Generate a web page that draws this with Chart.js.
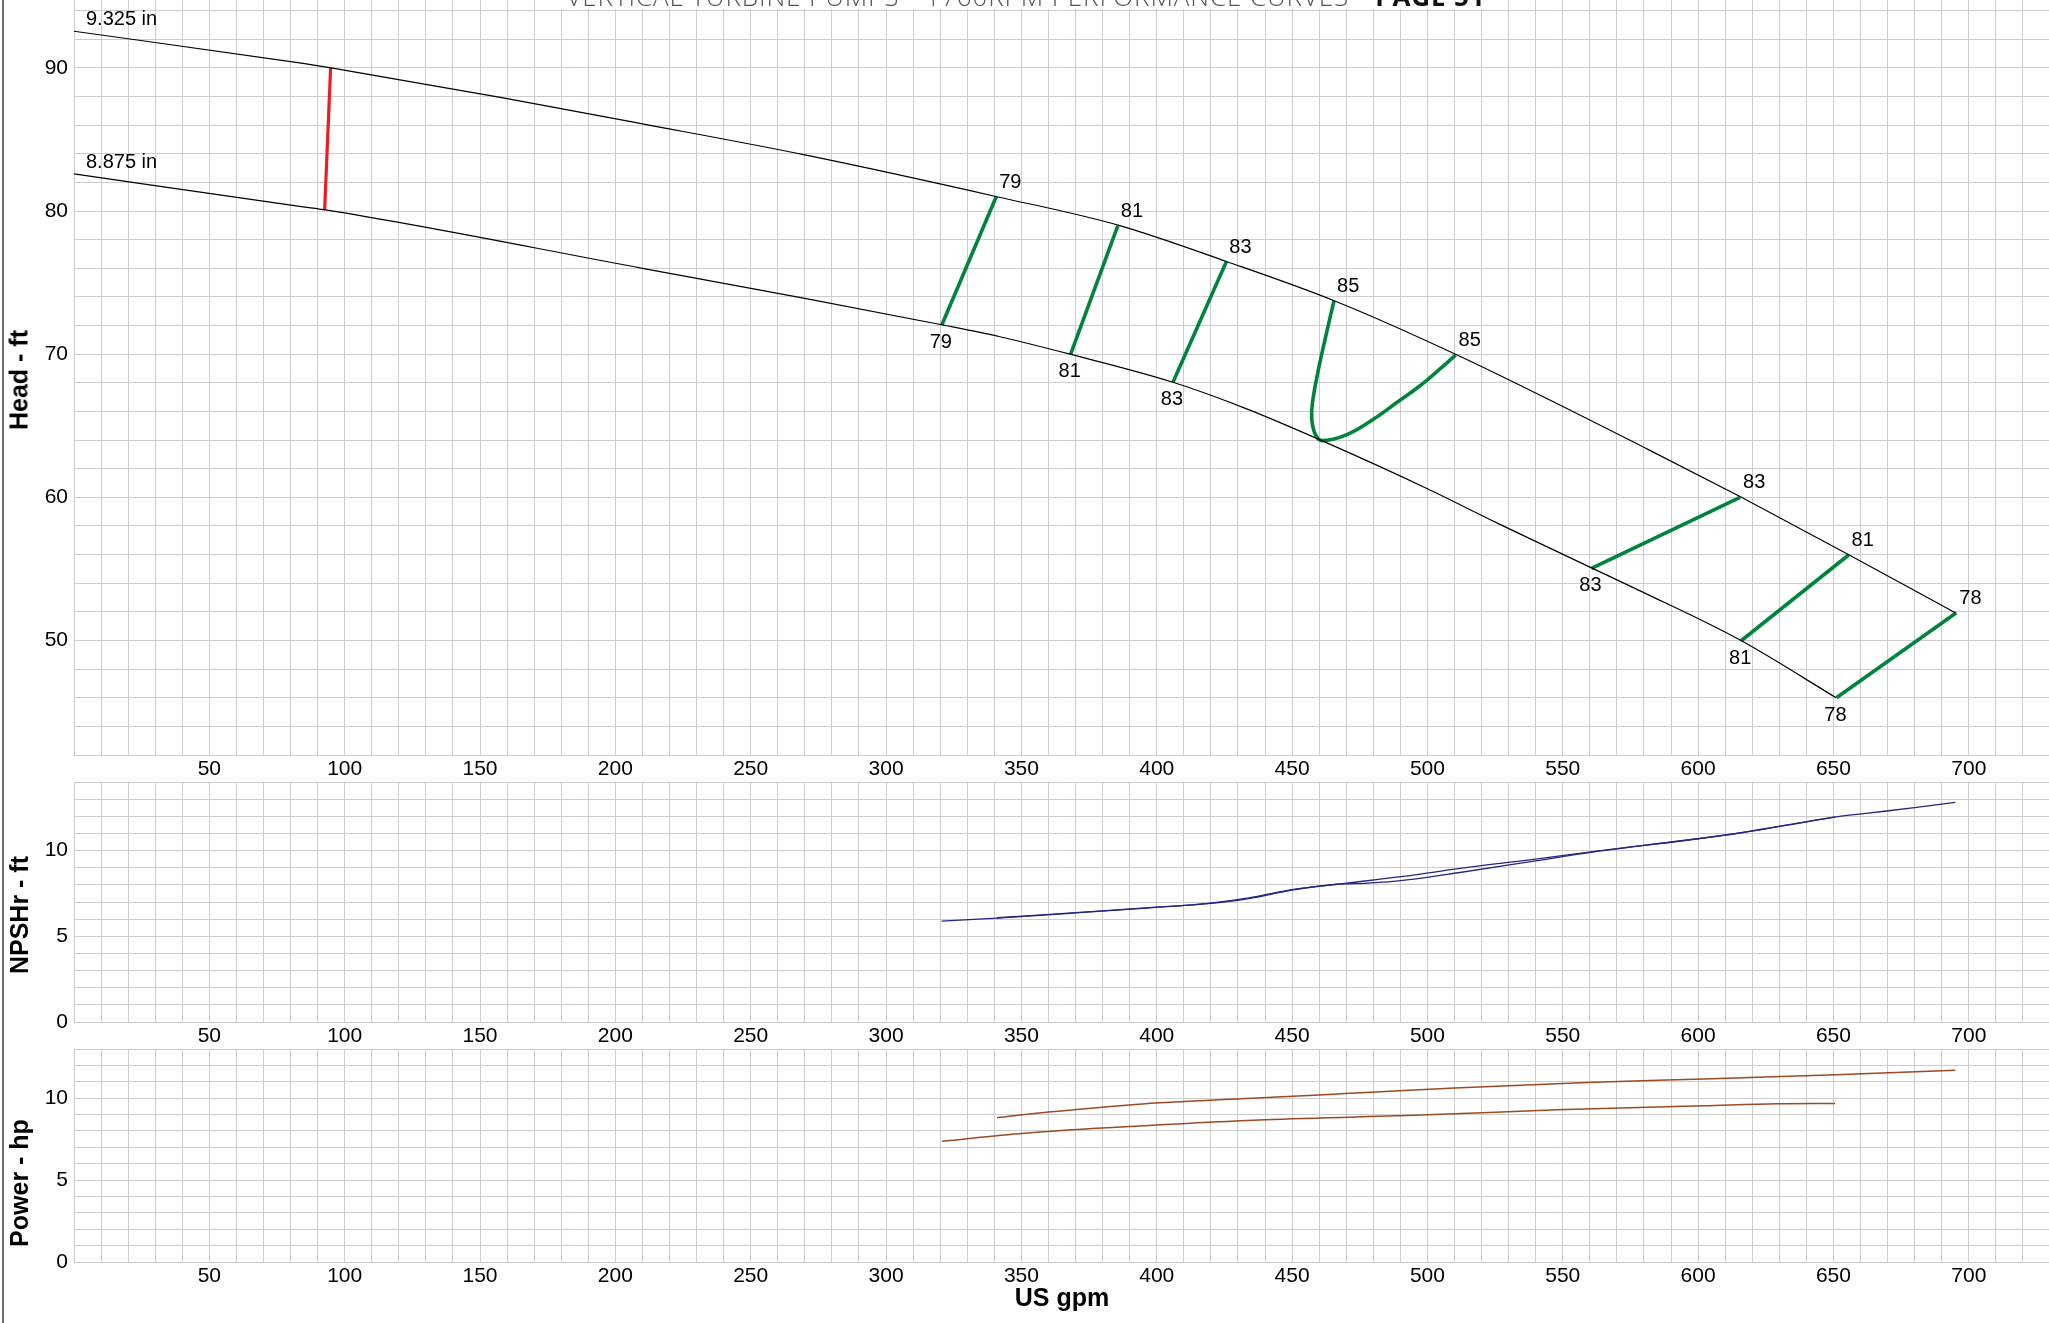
<!DOCTYPE html>
<html>
<head>
<meta charset="utf-8">
<title>Vertical turbine pump - 1760 RPM performance curves</title>
<script src="https://cdn.jsdelivr.net/npm/chart.js@4.4.1/dist/chart.umd.min.js"></script>
<style>
  html, body { margin: 0; padding: 0; background: #fff; }
  body { width: 2049px; height: 1323px; overflow: hidden; position: relative; font-family: "Liberation Sans", Arial, sans-serif; }
  canvas { position: absolute; left: 0; display: block; }
  #edge { position: absolute; left: 2px; top: 0; width: 2px; height: 1323px; background: #6e6e6e; }
  .ytitle { position: absolute; left: 19px; font-weight: bold; font-size: 25px; white-space: nowrap; color: #000;
            transform: translate(-50%, -50%) rotate(-90deg); }
  #pageTitle { position: absolute; left: 0; top: -16px; width: 2052px; text-align: center; }
  #pageTitle span { display: inline-block; background: #fff; font-family: "Open Sans", sans-serif; font-weight: 300;
                    font-size: 26px; line-height: 25px; letter-spacing: 0.9px; color: #555; padding: 0 6px; }
  #pageTitle b { font-weight: 700; color: #111; }
</style>
</head>
<body>
<canvas id="head" width="2052" height="831" style="top:-48px"></canvas>
<canvas id="npsh" width="2052" height="298" style="top:752px"></canvas>
<canvas id="power" width="2052" height="299" style="top:1019px"></canvas>
<div id="edge"></div>
<div id="pageTitle"><span>VERTICAL TURBINE PUMPS &bull; 1760RPM PERFORMANCE CURVES &bull; <b>PAGE 51</b></span></div>
<div class="ytitle" style="top:380px">Head - ft</div>
<div class="ytitle" style="top:915px">NPSHr - ft</div>
<div class="ytitle" style="top:1183px">Power - hp</div>
<script>
// tick labels
const flowLabels = [50, 100, 150, 200, 250, 300, 350, 400, 450, 500, 550, 600, 650, 700];
const headLabels = [50, 60, 70, 80, 90];
const npshLabels = [0, 5, 10];
const powerLabels = [0, 5, 10];

// head curves for the two impeller diameters
const diameterNames = ['9.325 in', '8.875 in'];
const dia9325Gpm  = [0, 84, 95, 158, 210, 270, 341, 386, 426, 466, 511, 582, 616, 656, 695];
const dia9325Head = [92.56, 90.33, 90.0, 87.92, 86.09, 83.92, 81.0, 79.0, 76.46, 73.7, 69.94, 63.3, 60.0, 55.96, 51.94];
const dia8875Gpm  = [0, 84, 93, 210, 270, 321, 342, 368, 406, 433, 461, 500, 526, 561, 578, 616, 651];
const dia8875Head = [82.6, 80.31, 80.08, 76.0, 73.9, 72.04, 71.22, 70.0, 68.04, 66.2, 63.96, 60.6, 58.18, 55.04, 53.52, 49.98, 46.0];

// minimum flow line
const minFlowGpm  = [92.6, 94.8];
const minFlowHead = [80.08, 90.0];

// efficiency lines (lower end on 8.875 in, upper end on 9.325 in)
const effNames    = ['79', '81', '83', '83', '81', '78'];
const effLowGpm   = [320.6, 368.2, 406.0, 560.6, 615.9, 651.1];
const effLowHead  = [72.04, 70.0, 68.04, 55.04, 49.98, 46.0];
const effHighGpm  = [340.7, 385.6, 425.7, 615.5, 655.6, 695.4];
const effHighHead = [81.0, 78.96, 76.46, 60.0, 55.97, 51.94];

// 85% loop
const eff85Name = '85';
const eff85Gpm  = [465.5, 462.4, 459.7, 457.5, 457.3, 458.7, 461.2, 469.8, 479.6, 488.3, 496.9, 504.2, 510.4];
const eff85Head = [73.74, 71.22, 68.9, 66.57, 65.4, 64.35, 63.96, 64.35, 65.4, 66.57, 67.74, 68.9, 69.94];

// NPSHr
const npsh9325Gpm = [341, 370, 401, 419, 434, 450, 470, 491, 512, 540, 564, 600, 616, 650, 662, 680, 695];
const npsh9325Ft  = [6.08, 6.38, 6.71, 6.92, 7.24, 7.72, 8.1, 8.49, 8.96, 9.5, 10.0, 10.69, 11.05, 11.94, 12.17, 12.5, 12.81];
const npsh8875Gpm = [320.5, 341, 370, 401, 419, 434, 450, 466, 478, 491, 512, 540, 564, 600, 616, 650.6];
const npsh8875Ft  = [5.88, 6.06, 6.36, 6.7, 6.9, 7.2, 7.7, 8.02, 8.1, 8.26, 8.72, 9.4, 9.98, 10.69, 11.04, 11.96];

// power
const power9325Gpm = [341, 360, 392, 435, 460, 481, 510, 559, 602, 651, 695];
const power9325Hp  = [8.80, 9.15, 9.62, 10.0, 10.2, 10.38, 10.62, 10.96, 11.17, 11.43, 11.70];
const power8875Gpm = [320.7, 351, 397, 440, 500, 548, 602, 629, 650.6];
const power8875Hp  = [7.37, 7.86, 8.33, 8.68, 8.98, 9.29, 9.53, 9.66, 9.68];

const pts = (xs, ys) => xs.map((x, i) => ({x: x, y: ys[i]}));

const GRID = '#cdcdcd';
const GREEN = '#00843d';
Chart.defaults.font.family = '"Liberation Sans", Arial, sans-serif';
Chart.defaults.font.size = 21;
Chart.defaults.color = '#000';

function curve(data, color, width, smooth) {
    return {
        data: data,
        showLine: true,
        borderColor: color,
        borderWidth: width,
        pointRadius: 0,
        tension: smooth === 'spline' ? 0.4 : 0,
        cubicInterpolationMode: smooth === 'monotone' ? 'monotone' : 'default'
    };
}

function panel(yMin, yMax, yLabels, xAxisHeight, xTitle) {
    return {
        responsive: false,
        animation: false,
        events: [],
        layout: { padding: { top: 30, right: 0, bottom: 0, left: 0 } },
        plugins: { legend: { display: false }, tooltip: { enabled: false } },
        scales: {
            x: {
                type: 'linear', min: 0, max: 730,
                grid: { color: GRID, drawTicks: false },
                border: { color: GRID },
                ticks: {
                    stepSize: 10, autoSkip: false, maxRotation: 0, padding: 2,
                    callback: v => flowLabels.includes(v) ? v : ''
                },
                title: xTitle ? { display: true, text: xTitle, font: { size: 25, weight: 'bold' }, padding: { top: 0, bottom: 4 } } : { display: false },
                afterFit: s => { s.height = xAxisHeight; }
            },
            y: {
                min: yMin, max: yMax,
                grid: { color: GRID, drawTicks: false },
                border: { color: GRID },
                ticks: {
                    stepSize: yMax > 20 ? 2 : 1, autoSkip: false, padding: 6,
                    callback: v => yLabels.includes(v) ? v : ''
                },
                afterFit: s => { s.width = 74; }
            }
        }
    };
}

// labels on the head chart
const curveLabels = {
    id: 'curveLabels',
    afterDatasetsDraw(chart) {
        const {ctx, scales: {x, y}} = chart;
        ctx.save();
        ctx.font = '20px "Liberation Sans", Arial, sans-serif';
        ctx.fillStyle = '#000';
        ctx.textBaseline = 'alphabetic';
        ctx.textAlign = 'left';
        ctx.fillText(diameterNames[0], x.getPixelForValue(dia9325Gpm[0]) + 12, y.getPixelForValue(dia9325Head[0]) - 6);
        ctx.fillText(diameterNames[1], x.getPixelForValue(dia8875Gpm[0]) + 12, y.getPixelForValue(dia8875Head[0]) - 6);
        effNames.forEach((name, i) => {
            ctx.textAlign = 'left';
            ctx.fillText(name, x.getPixelForValue(effHighGpm[i]) + 3, y.getPixelForValue(effHighHead[i]) - 9);
            ctx.textAlign = 'center';
            ctx.fillText(name, x.getPixelForValue(effLowGpm[i]) - 1, y.getPixelForValue(effLowHead[i]) + 23);
        });
        const last = eff85Gpm.length - 1;
        ctx.textAlign = 'left';
        ctx.fillText(eff85Name, x.getPixelForValue(eff85Gpm[0]) + 3, y.getPixelForValue(eff85Head[0]) - 9);
        ctx.fillText(eff85Name, x.getPixelForValue(eff85Gpm[last]) + 3, y.getPixelForValue(eff85Head[last]) - 9);
        ctx.restore();
    }
};

const headSets = [
    curve(pts(dia9325Gpm, dia9325Head), '#000', 1.2, 'monotone'),
    curve(pts(dia8875Gpm, dia8875Head), '#000', 1.2, 'monotone'),
    curve(pts(minFlowGpm, minFlowHead), '#ed1c24', 3.2),
    curve(pts(eff85Gpm, eff85Head), GREEN, 3.6, 'spline')
];
effNames.forEach((name, i) => {
    headSets.push(curve(pts([effLowGpm[i], effHighGpm[i]], [effLowHead[i], effHighHead[i]]), GREEN, 3.6));
});

new Chart(document.getElementById('head'), {
    type: 'scatter',
    data: { datasets: headSets },
    options: panel(42, 96, headLabels, 28),
    plugins: [curveLabels]
});

new Chart(document.getElementById('npsh'), {
    type: 'scatter',
    data: { datasets: [
        curve(pts(npsh9325Gpm, npsh9325Ft), '#262680', 1.3, 'monotone'),
        curve(pts(npsh8875Gpm, npsh8875Ft), '#262680', 1.3, 'monotone')
    ] },
    options: panel(0, 14, npshLabels, 28)
});

new Chart(document.getElementById('power'), {
    type: 'scatter',
    data: { datasets: [
        curve(pts(power9325Gpm, power9325Hp), '#9c4a22', 1.5, 'monotone'),
        curve(pts(power8875Gpm, power8875Hp), '#9c4a22', 1.5, 'monotone')
    ] },
    options: panel(0, 13, powerLabels, 56, 'US gpm')
});
</script>
</body>
</html>
